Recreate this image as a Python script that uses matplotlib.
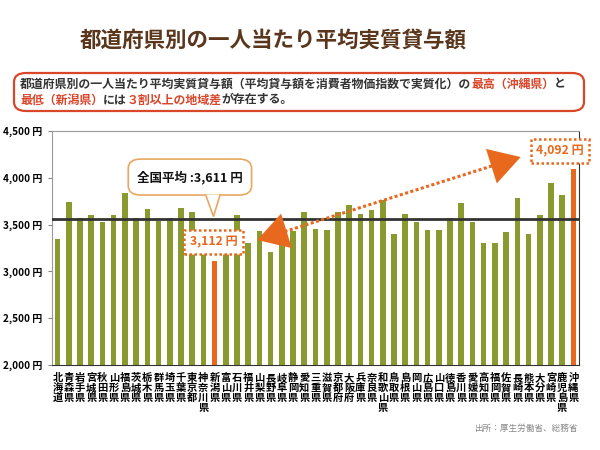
import numpy as np
import matplotlib
matplotlib.use("Agg")
import matplotlib.pyplot as plt
from matplotlib.patches import FancyBboxPatch, Polygon

plt.rcParams['font.family'] = ['Noto Sans CJK JP', 'DejaVu Sans']

# データ
prefs = ['北海道', '青森県', '岩手県', '宮城県', '秋田県', '山形県', '福島県', '茨城県',
         '栃木県', '群馬県', '埼玉県', '千葉県', '東京都', '神奈川県', '新潟県', '富山県',
         '石川県', '福井県', '山梨県', '長野県', '岐阜県', '静岡県', '愛知県', '三重県',
         '滋賀県', '京都府', '大阪府', '兵庫県', '奈良県', '和歌山県', '鳥取県', '島根県',
         '岡山県', '広島県', '山口県', '徳島県', '香川県', '愛媛県', '高知県', '福岡県',
         '佐賀県', '長崎県', '熊本県', '大分県', '宮崎県', '鹿児島県', '沖縄県']
values = [3342, 3745, 3574, 3599, 3527, 3599, 3834, 3574,
          3663, 3538, 3574, 3681, 3636, 3400, 3112, 3350,
          3599, 3307, 3435, 3206, 3321, 3435, 3639, 3449,
          3439, 3639, 3706, 3610, 3652, 3759, 3403, 3610,
          3527, 3439, 3439, 3574, 3735, 3527, 3307, 3307,
          3425, 3781, 3403, 3599, 3941, 3813, 4092]
avg_label = 3611
avg_line = 3556
y_ticks = [2000, 2500, 3000, 3500, 4000, 4500]
min_name, max_name = '新潟県', '沖縄県'

GREEN = '#8a9a2f'
ORANGE = '#e8691e'
RED = '#d9472b'
BROWN = '#5a361c'

W, H = 600, 450


def px(x, y):
    return (x / W, 1 - y / H)


fig = plt.figure(figsize=(6, 4.5), dpi=100)
bg = fig.add_axes([0, 0, 1, 1])
bg.set_xlim(0, 1)
bg.set_ylim(0, 1)
bg.axis('off')

# タイトル
bg.text(*px(273, 40), '都道府県別の一人当たり平均実質貸与額', ha='center', va='center',
        fontsize=15.5, fontweight='bold', color=BROWN)

# 説明ボックス
x0, y0 = px(14, 111)
x1, y1 = px(584, 73)
bg.add_patch(FancyBboxPatch((x0, y0), x1 - x0, y1 - y0,
                            boxstyle='round,pad=0,rounding_size=0.02',
                            fc='white', ec=RED, lw=1.6))


def colored_line(parts, start):
    prev = None
    for txt, col in parts:
        if prev is None:
            prev = bg.text(*start, txt, color=col, fontsize=8.6, fontweight='bold',
                           ha='left', va='center')
        else:
            prev = bg.annotate(txt, xy=(1, 0), xycoords=prev, va='bottom', ha='left',
                               color=col, fontsize=8.6, fontweight='bold')


colored_line([('都道府県別の一人当たり平均実質貸与額（平均貸与額を消費者物価指数で実質化）の', '#333333'),
              ('最高（沖縄県）', RED), ('と', '#333333')], px(20, 84))
colored_line([('最低（新潟県）', RED), ('には', '#333333'), ('３割以上の地域差', RED),
              ('が存在する。', '#333333')], px(20, 100))

# 棒グラフ
ax = fig.add_axes([52 / W, 1 - 365 / H, (579 - 52) / W, (365 - 131) / H])
x = np.arange(len(prefs))
colors = [ORANGE if p in (min_name, max_name) else GREEN for p in prefs]
ax.bar(x, values, width=0.5, color=colors, zorder=2)
ax.axhline(avg_line, color='#333333', lw=2, zorder=3)
ax.set_ylim(y_ticks[0], y_ticks[-1])
ax.set_xlim(-0.5, len(prefs) - 0.5)
ax.set_yticks(y_ticks)
ax.set_yticklabels([f'{v:,} 円' for v in y_ticks], fontsize=7.2, fontweight='bold')
ax.set_xticks(x)
ax.set_xticklabels(['\n'.join(p) for p in prefs], fontsize=7.4, fontweight='bold',
                   linespacing=0.98, va='top')
ax.tick_params(axis='x', length=0, pad=6)
ax.tick_params(axis='y', length=3, color='#888888', pad=4)
ax.spines['left'].set_color('#999999')
ax.spines['top'].set_color('#999999')
ax.spines['right'].set_color('#333333')
ax.spines['bottom'].set_color('#333333')

# 全国平均の吹き出し
cx0, cy0 = 6.3, 3816
cx1, cy1 = 17.3, 4200
ax.add_patch(FancyBboxPatch((cx0, cy0), cx1 - cx0, cy1 - cy0,
                            boxstyle='round,pad=0,rounding_size=1.1',
                            mutation_aspect=90, fc='white', ec='#e8a860', lw=1.2,
                            zorder=6, clip_on=False))
ax.add_patch(Polygon([(13.2, cy0 + 5), (13.9, avg_line + 30), (14.5, cy0 + 5)],
                     closed=False, fc='white', ec='#e8a860', lw=1.2, zorder=7))
ax.text((cx0 + cx1) / 2, (cy0 + cy1) / 2, f'全国平均 :{avg_label:,} 円', ha='center',
        va='center', fontsize=9, fontweight='bold', color='#111111', zorder=8)

# 最低・最高のラベル
i_min = prefs.index(min_name)
i_max = prefs.index(max_name)
lab_kw = dict(ha='center', va='center', fontsize=8.8, fontweight='bold', color=ORANGE,
              zorder=9,
              bbox=dict(boxstyle='square,pad=0.45', fc='white', ec=ORANGE, lw=1.8,
                        ls=(0, (1, 1))))
ax.text(i_min - 0.1, 3318, f'{values[i_min]:,} 円', **lab_kw)
t = ax.text(i_max - 1.2, 4285, f'{values[i_max]:,} 円', **lab_kw)
t.set_clip_on(False)

# 両矢印（点線）
a0 = (17.8, 3335)
a1 = (41.3, 4222)
ax.plot([a0[0] + 1.5, a1[0] - 1.5], [a0[1] + 55, a1[1] - 55], color=ORANGE, lw=2.2,
        ls=(0, (1, 0.8)), zorder=8)
for tip, tail in ((a0, (a0[0] + 2.4, a0[1] + 90)), (a1, (a1[0] - 2.4, a1[1] - 90))):
    ax.annotate('', xy=tip, xytext=tail,
                arrowprops=dict(arrowstyle='-|>,head_length=1.7,head_width=1.0',
                                color=ORANGE, lw=0, mutation_scale=13,
                                shrinkA=0, shrinkB=0), zorder=9)

# 出所
bg.text(*px(578, 428), '出所：厚生労働省、総務省', ha='right', va='center', fontsize=6.2,
        color='#888888')

fig.savefig('out.png', dpi=100)
